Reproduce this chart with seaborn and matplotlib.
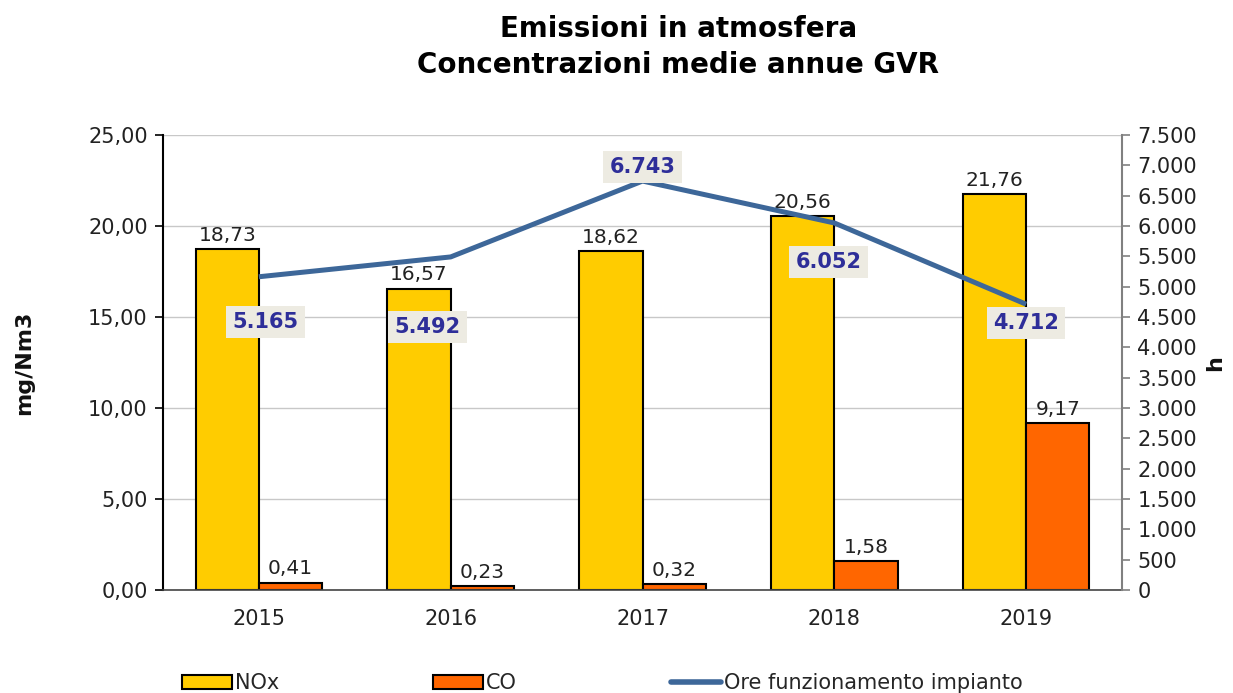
import pandas as pd
import matplotlib.pyplot as plt
import seaborn as sns
from matplotlib.patches import Patch
from matplotlib.lines import Line2D

# data
years = ["2015", "2016", "2017", "2018", "2019"]
nox = [18.73, 16.57, 18.62, 20.56, 21.76]
co = [0.41, 0.23, 0.32, 1.58, 9.17]
ore = [5165, 5492, 6743, 6052, 4712]

def it_num(v, dec=2):
    s = f"{v:,.{dec}f}"
    return s.replace(",", "X").replace(".", ",").replace("X", ".")

sns.set_style("white")
plt.rcParams["font.family"] = ["DejaVu Sans"]

df = pd.DataFrame({"Anno": years * 2,
                   "Valore": nox + co,
                   "Serie": ["NOx"] * 5 + ["CO"] * 5})

fig = plt.figure(figsize=(12.33, 6.93), dpi=100)
ax = fig.add_axes([0.1322, 0.1486, 0.7778, 0.6564])

sns.barplot(data=df, x="Anno", y="Valore", hue="Serie", order=years,
            hue_order=["NOx", "CO"], palette=["#FFCC00", "#FF6600"],
            saturation=1, width=0.66, edgecolor="black", linewidth=1.5,
            ax=ax, legend=False, zorder=2)

ax.set_ylim(0, 25)
ax.set_yticks([0, 5, 10, 15, 20, 25])
ax.set_yticklabels([it_num(v) for v in [0, 5, 10, 15, 20, 25]], fontsize=15, color="#222222")
ax.set_xlim(-0.5, 4.5)
ax.tick_params(axis="x", labelsize=15, colors="#222222", length=0, pad=14)
ax.tick_params(axis="y", direction="out", length=6, width=1.2, color="black", pad=5)
ax.set_xticks([-0.5, 0.5, 1.5, 2.5, 3.5, 4.5], minor=True)
ax.tick_params(axis="x", which="minor", direction="out", length=5, width=1, color="#444444")
ax.yaxis.grid(True, color="#C8C8C8", linewidth=1)
ax.set_axisbelow(True)
ax.set_xlabel("")
ax.set_ylabel("mg/Nm3", fontsize=16, fontweight="bold", labelpad=39, color="#111111")
for s in ["top", "right"]:
    ax.spines[s].set_visible(False)
ax.spines["left"].set_color("black")
ax.spines["left"].set_linewidth(1.5)
ax.spines["bottom"].set_color("#444444")
ax.spines["bottom"].set_linewidth(1.2)

# value labels above bars
for cont, vals in zip(ax.containers, [nox, co]):
    ax.bar_label(cont, labels=[it_num(v) for v in vals], padding=3,
                 fontsize=14.5, color="#222222")

# secondary axis: operating hours
ax2 = ax.twinx()
xpos = list(range(len(years)))
ax2.plot(xpos, ore, color="#3D6799", linewidth=3.6, solid_capstyle="butt", zorder=3)
ax2.set_ylim(0, 7500)
ax2.set_yticks(range(0, 7501, 500))
ax2.set_yticklabels([it_num(v, 0) for v in range(0, 7501, 500)], fontsize=15, color="#222222")
ax2.tick_params(axis="y", direction="out", length=6, width=1.2, color="#808080", pad=5)
ax2.set_ylabel("h", fontsize=16, fontweight="bold", labelpad=6, color="#111111")
for s in ["top", "left", "bottom"]:
    ax2.spines[s].set_visible(False)
ax2.spines["right"].set_color("#808080")
ax2.spines["right"].set_linewidth(1.5)

# label placement around the line points (x shift in categories, y shift in hours)
dx = [0.035, -0.12, 0.0, -0.03, 0.0]
dy = [-748, -1159, 228, -646, -313]
for x, v, ox, oy in zip(xpos, ore, dx, dy):
    ax2.text(x + ox, v + oy, it_num(v, 0), ha="center", va="center",
             fontsize=15, fontweight="bold", color="#2E2E99", zorder=5,
             bbox=dict(boxstyle="square,pad=0.3", facecolor="#EDEBE2", edgecolor="none"))

fig.suptitle("Emissioni in atmosfera\nConcentrazioni medie annue GVR",
             fontsize=20, fontweight="bold", y=0.978, x=0.55, linespacing=1.35,
             color="black")

handles = [Patch(facecolor="#FFCC00", edgecolor="black", linewidth=1.5, label="NOx"),
           Patch(facecolor="#FF6600", edgecolor="black", linewidth=1.5, label="CO"),
           Line2D([0], [0], color="#3D6799", linewidth=4, label="Ore funzionamento impianto")]
fig.legend(handles=handles, loc="center left", bbox_to_anchor=(0.132, 0.014), ncol=3,
           frameon=False, fontsize=15, columnspacing=7.4, handlelength=2.4,
           handleheight=0.6, handletextpad=0.15)

fig.savefig("out.png", dpi=100)
